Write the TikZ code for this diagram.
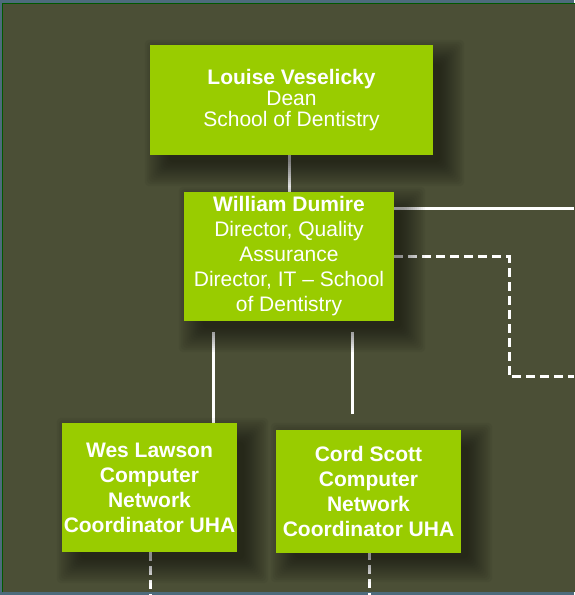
\documentclass[tikz,border=0pt]{standalone}
\usepackage{fontspec}
\setmainfont{Liberation Sans}
\begin{document}
\begin{tikzpicture}[x=1pt,y=1pt,
  box/.style={fill=boxgreen, text=white, inner sep=0pt, align=center, font=\fontsize{21}{25}\selectfont},
  conn/.style={draw=white, line width=3pt},
  dconn/.style={draw=white, line width=3pt, dash pattern=on 9pt off 5pt},
]
\definecolor{boxgreen}{HTML}{99CC00}
\definecolor{bgolive}{HTML}{4B4F36}
\definecolor{frameblue}{HTML}{4D6B7C}
\useasboundingbox (0,0) rectangle (574,595);
% background
\fill[frameblue] (0,0) rectangle (574,595);
\fill[bgolive] (2,2.5) rectangle (576,592);
\draw[green!35!black, line width=0.6pt] (2.3,2.5) -- (2.3,591.7) -- (576,591.7);

% coordinates
\coordinate (r1) at (574,386);
\coordinate (d1) at (509,338);
\coordinate (d2) at (509,218);
\coordinate (d3) at (574,218);
\coordinate (a1) at (213,263);
\coordinate (b1) at (352,263);
\coordinate (b2) at (352,181);
\coordinate (e1) at (150,0);
\coordinate (e2) at (369,0);

% node placement
\path node[box, fill=none, text opacity=0, minimum width=283pt, minimum height=110pt] (dean) at (291.5,495) {};
\path node[box, fill=none, text opacity=0, minimum width=210pt, minimum height=129pt] (will) at (289,338.5) {};
\path node[box, fill=none, text opacity=0, minimum width=175pt, minimum height=129pt] (wes) at (149.5,107.5) {};
\path node[box, fill=none, text opacity=0, minimum width=185pt, minimum height=123pt] (cord) at (368.5,105.5) {};

% connectors
\draw[conn, draw=white!80!gray] (dean.south -| will.north) -- (will.north);
\draw[conn] (will.east |- r1) -- (r1);
\draw[dconn] (will.east |- d1) -- (d1) -- (d2) -- (d3);
\draw[conn] (a1) -- (a1 |- wes.north);
\draw[conn] (b1) -- (b2);
\draw[dconn] (wes.south -| e1) -- (e1);
\draw[dconn] (cord.south -| e2) -- (e2);

% shadows
\foreach \n in {dean,will,wes,cord}{
  \foreach \g in {-6,-4,...,18}{
    \fill[black, opacity=0.045, rounded corners=4pt]
      ([xshift=13pt-\g pt, yshift=-13pt-\g pt]\n.south west) rectangle
      ([xshift=13pt+\g pt, yshift=-13pt+\g pt]\n.north east);
  }
}

% boxes
\node[box, minimum width=283pt, minimum height=110pt, font=\fontsize{21}{21}\selectfont] at (dean) {\textbf{Louise Veselicky}\\Dean\\School of Dentistry};
\node[box, minimum width=210pt, minimum height=129pt] at (will) {\textbf{William Dumire}\\Director, Quality\\Assurance\\Director, IT -- School\\of Dentistry};
\node[box, minimum width=175pt, minimum height=129pt, font=\fontsize{21}{25}\selectfont\bfseries] at (wes) {Wes Lawson\\Computer\\Network\\Coordinator UHA};
\node[box, minimum width=185pt, minimum height=123pt, font=\fontsize{21}{25}\selectfont\bfseries] at ([yshift=-2pt]cord) {Cord Scott\\Computer\\Network\\Coordinator UHA};
\end{tikzpicture}
\end{document}
